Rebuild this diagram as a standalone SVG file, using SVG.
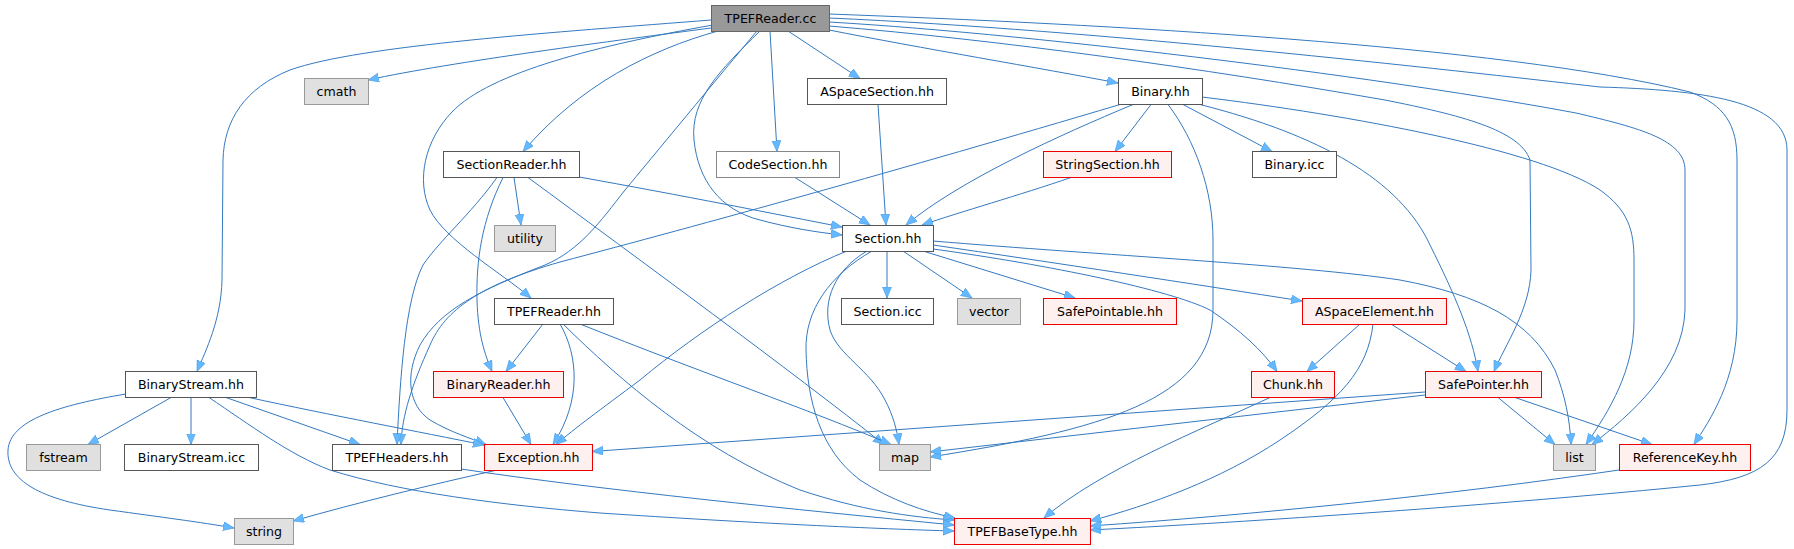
<svg xmlns="http://www.w3.org/2000/svg" width="1794" height="549" viewBox="0 0 1794 549">
<style>
.n rect{fill:#ffffff;stroke:#555555;stroke-width:1}
.l rect{fill:#ffffff;stroke:#888888;stroke-width:1}
.g rect{fill:#e0e0e0;stroke:#999999;stroke-width:1}
.r rect{fill:#fff0f0;stroke:#ee0000;stroke-width:1}
.m rect{fill:#999999;stroke:#666666;stroke-width:1}
text{font-family:"DejaVu Sans","Liberation Sans",sans-serif;font-size:12.6px;text-anchor:middle;fill:#000000}
#edges path{fill:none;stroke:#3579bf;stroke-width:1;marker-end:url(#a)}
</style>
<defs>
<marker id="a" markerUnits="userSpaceOnUse" markerWidth="13" markerHeight="10" refX="11" refY="4.5" orient="auto">
<path d="M0,0 L11,4.5 L0,9 z" fill="#63b8ff" stroke="#4a9be0" stroke-width="0.6"/>
</marker>
</defs>
<rect width="1794" height="549" fill="#ffffff"/>
<g id="edges">
<path d="M711,28 C620,40 450,62 368,80"/>
<path d="M711,20 C560,32 360,45 290,70 C245,88 224,120 223,160 L222,280 C221,320 206,350 197,371.5"/>
<path d="M718,31 C650,50 580,85 523,151.5"/>
<path d="M713,25 C600,45 490,72 452,112 C425,140 416,180 430,210 C445,240 500,272 531,298"/>
<path d="M757,31 C720,75 650,160 625,190 C600,222 580,250 545,265 C480,290 440,310 420,345 C405,375 408,405 430,420 C450,432 470,438 486,444.5"/>
<path d="M760,31 C720,70 690,100 694,140 C698,180 720,210 760,220 C790,228 815,232 842,235"/>
<path d="M770,31 L777,151.5"/>
<path d="M788,31 L860,78.5"/>
<path d="M829,30 C920,48 1040,68 1118,83"/>
<path d="M829,26 C1000,40 1200,68 1385,100 C1460,115 1520,130 1530,160 L1531,270 C1530,310 1505,345 1494,371.5"/>
<path d="M829,22 C1050,35 1400,80 1576,113 C1640,128 1685,140 1685,170 L1685,310 C1683,370 1630,415 1592,444.5"/>
<path d="M829,14 C1100,24 1500,45 1690,92 C1725,105 1737,125 1737,160 L1737,320 C1737,380 1710,420 1694,444.5"/>
<path d="M829,18 C1100,30 1450,70 1600,87 C1700,90 1787,100 1787,150 L1787,410 C1787,460 1760,478 1700,485 C1500,505 1250,522 1090,530"/>
<path d="M1202,97 C1350,115 1540,150 1600,190 C1628,210 1634,230 1634,260 L1634,320 C1634,370 1610,410 1586,444.5"/>
<path d="M1200,104.5 C1320,135 1400,180 1430,245 C1455,295 1472,335 1478,371.5"/>
<path d="M1168,104.5 C1195,140 1213,190 1213,240 L1213,310 C1213,400 1100,430 930,457"/>
<path d="M1120,104.5 C900,170 700,225 560,262 C480,285 445,310 430,345 C412,385 402,415 401,444.5"/>
<path d="M1133,104.5 C1060,135 960,180 906,225"/>
<path d="M1151,104.5 L1115,151.5"/>
<path d="M1183,104.5 L1272,151.5"/>
<path d="M1071,177.5 C1020,195 960,212 922,225"/>
<path d="M795,177.5 L870,225"/>
<path d="M878,104.5 L886,225"/>
<path d="M579,177 C680,195 780,215 842,227"/>
<path d="M514,177.5 L521,225"/>
<path d="M503,177.5 C482,220 476,260 477,300 C478,335 485,355 492,371.5"/>
<path d="M497,177.5 C470,215 440,240 423,265 C405,300 400,380 397,444.5"/>
<path d="M528,177.5 C640,260 790,370 884,444.5"/>
<path d="M847,251 C780,278 700,330 640,380 C600,410 575,428 556,444.5"/>
<path d="M543,324 L506,371.5"/>
<path d="M560,324 C578,355 582,400 553,444.5"/>
<path d="M563,324 C620,380 700,450 800,490 C860,510 910,517 954,520"/>
<path d="M580,324 C700,372 810,410 891,444.5"/>
<path d="M503,397.5 L531,444.5"/>
<path d="M171,397.5 L88,444.5"/>
<path d="M191,397.5 L191,444.5"/>
<path d="M126,394 C60,405 10,420 8,450 C6,480 40,500 110,510 C160,517 200,522 234,528"/>
<path d="M226,397.5 L360,444.5"/>
<path d="M249,397.5 C330,415 420,432 484,445"/>
<path d="M209,397.5 C250,425 290,455 330,470 C400,492 500,505 600,513 C750,523 880,529 954,531"/>
<path d="M461,469 C600,490 800,510 954,525"/>
<path d="M495,470.5 C430,485 360,502 293,521"/>
<path d="M887,251 L887,298"/>
<path d="M903,251 L972,298"/>
<path d="M923,251 L1075,298"/>
<path d="M933,245 C1050,262 1200,285 1302,301"/>
<path d="M933,249 C1050,265 1170,290 1210,310 C1240,330 1262,350 1277,371.5"/>
<path d="M933,241 C1100,255 1300,265 1400,280 C1480,295 1530,320 1555,370 C1565,395 1570,420 1571,444.5"/>
<path d="M867,251 C835,270 822,300 830,330 C838,355 870,370 885,400 C893,415 897,430 899,444.5"/>
<path d="M872,251 C830,275 805,310 806,350 C807,400 820,450 860,480 C890,500 925,512 955,518"/>
<path d="M1360,324 L1307,371.5"/>
<path d="M1391,324 L1466,371.5"/>
<path d="M1373,324 C1368,370 1340,400 1280,440 C1220,480 1150,505 1090,521"/>
<path d="M1270,397.5 C1200,430 1100,470 1044,518"/>
<path d="M1425,392 L592,451.5"/>
<path d="M1425,395 L930,452"/>
<path d="M1498,397.5 L1555,444.5"/>
<path d="M1515,397.5 L1652,444.5"/>
<path d="M1619,470 C1450,495 1250,515 1090,526"/>
</g>
<g id="n_tpefreader_cc" class="m"><rect x="711.5" y="5.5" width="118" height="26"/><text x="770.5" y="22.5">TPEFReader.cc</text></g>
<g id="n_cmath" class="g"><rect x="304.5" y="78.5" width="64" height="26"/><text x="336.5" y="95.5">cmath</text></g>
<g id="n_aspacesection" class="n"><rect x="807.5" y="78.5" width="139" height="26"/><text x="877" y="95.5">ASpaceSection.hh</text></g>
<g id="n_binary_hh" class="n"><rect x="1118.5" y="78.5" width="84" height="26"/><text x="1160.5" y="95.5">Binary.hh</text></g>
<g id="n_sectionreader" class="n"><rect x="443.5" y="151.5" width="136" height="26"/><text x="511.5" y="168.5">SectionReader.hh</text></g>
<g id="n_codesection" class="l"><rect x="716.5" y="151.5" width="123" height="26"/><text x="778" y="168.5">CodeSection.hh</text></g>
<g id="n_stringsection" class="r"><rect x="1043.5" y="151.5" width="128" height="26"/><text x="1107.5" y="168.5">StringSection.hh</text></g>
<g id="n_binary_icc" class="n"><rect x="1252.5" y="151.5" width="84" height="26"/><text x="1294.5" y="168.5">Binary.icc</text></g>
<g id="n_utility" class="g"><rect x="494.5" y="225.5" width="61" height="26"/><text x="525" y="242.5">utility</text></g>
<g id="n_section_hh" class="n"><rect x="842.5" y="225.5" width="91" height="26"/><text x="888" y="242.5">Section.hh</text></g>
<g id="n_tpefreader_hh" class="n"><rect x="494.5" y="298.5" width="119" height="26"/><text x="554" y="315.5">TPEFReader.hh</text></g>
<g id="n_section_icc" class="n"><rect x="841.5" y="298.5" width="92" height="26"/><text x="887.5" y="315.5">Section.icc</text></g>
<g id="n_vector" class="g"><rect x="957.5" y="298.5" width="63" height="26"/><text x="989" y="315.5">vector</text></g>
<g id="n_safepointable" class="r"><rect x="1043.5" y="298.5" width="133" height="26"/><text x="1110" y="315.5">SafePointable.hh</text></g>
<g id="n_aspaceelement" class="r"><rect x="1302.5" y="298.5" width="144" height="26"/><text x="1374.5" y="315.5">ASpaceElement.hh</text></g>
<g id="n_binarystream_hh" class="n"><rect x="125.5" y="371.5" width="131" height="26"/><text x="191" y="388.5">BinaryStream.hh</text></g>
<g id="n_binaryreader" class="r"><rect x="433.5" y="371.5" width="130" height="26"/><text x="498.5" y="388.5">BinaryReader.hh</text></g>
<g id="n_chunk" class="r"><rect x="1251.5" y="371.5" width="83" height="26"/><text x="1293" y="388.5">Chunk.hh</text></g>
<g id="n_safepointer" class="r"><rect x="1425.5" y="371.5" width="116" height="26"/><text x="1483.5" y="388.5">SafePointer.hh</text></g>
<g id="n_fstream" class="g"><rect x="26.5" y="444.5" width="74" height="26"/><text x="63.5" y="461.5">fstream</text></g>
<g id="n_binarystream_icc" class="n"><rect x="124.5" y="444.5" width="134" height="26"/><text x="191.5" y="461.5">BinaryStream.icc</text></g>
<g id="n_tpefheaders" class="n"><rect x="332.5" y="444.5" width="129" height="26"/><text x="397" y="461.5">TPEFHeaders.hh</text></g>
<g id="n_exception" class="r"><rect x="484.5" y="444.5" width="108" height="26"/><text x="538.5" y="461.5">Exception.hh</text></g>
<g id="n_map" class="g"><rect x="879.5" y="444.5" width="51" height="26"/><text x="905" y="461.5">map</text></g>
<g id="n_list" class="g"><rect x="1553.5" y="444.5" width="42" height="26"/><text x="1574.5" y="461.5">list</text></g>
<g id="n_referencekey" class="r"><rect x="1619.5" y="444.5" width="131" height="26"/><text x="1685" y="461.5">ReferenceKey.hh</text></g>
<g id="n_string" class="g"><rect x="234.5" y="518.5" width="59" height="26"/><text x="264" y="535.5">string</text></g>
<g id="n_tpefbasetype" class="r"><rect x="954.5" y="518.5" width="136" height="26"/><text x="1022.5" y="535.5">TPEFBaseType.hh</text></g>
</svg>
